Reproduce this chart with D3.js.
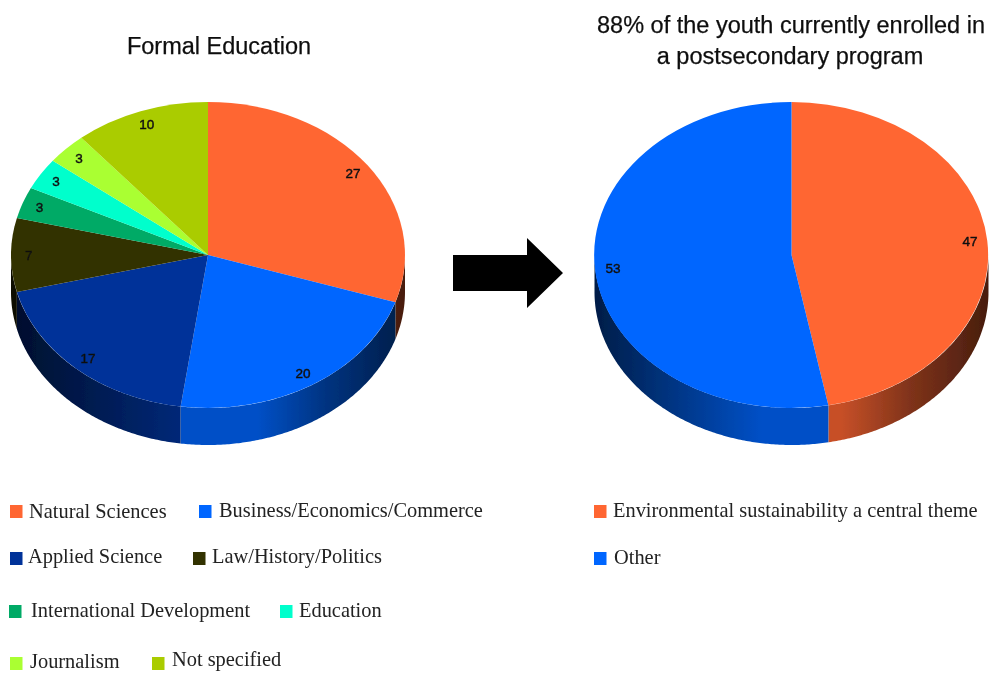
<!DOCTYPE html>
<html>
<head>
<meta charset="utf-8">
<script src="https://cdn.jsdelivr.net/npm/d3@7"></script>
<style>
  html, body { margin: 0; background: #fff; }
  .title { font-family: "Liberation Sans", Arial, sans-serif; font-size: 23.5px; fill: #111; stroke: #111; stroke-width: 0.25px; text-anchor: middle; }
  .value { font-family: "Liberation Sans", Arial, sans-serif; font-size: 13.5px; fill: #111; stroke: #111; stroke-width: 0.45px; text-anchor: middle; dominant-baseline: central; }
  .legend { font-family: "Liberation Serif", "Times New Roman", serif; font-size: 20.4px; fill: #222; }
</style>
</head>
<body>
<div id="chart"></div>
<script>
var svgWidth = 990;
var svgHeight = 675;

// left pie data
var educationCategories = ["Natural Sciences", "Business/Economics/Commerce", "Applied Science", "Law/History/Politics",
  "International Development", "Education", "Journalism", "Not specified"];
var educationValues = [27, 20, 17, 7, 3, 3, 3, 10];
var educationColors = ["#FF6633", "#0066FF", "#003399", "#333300", "#00AA66", "#00FFCC", "#AAFF33", "#AACC00"];

// right pie data
var themeCategories = ["Environmental sustainability a central theme", "Other"];
var themeValues = [47, 53];
var themeColors = ["#FF6633", "#0066FF"];

// wall lighting across the pie width: [x as share of radius, brightness]
var wallLight = [[-1, 0.28], [-0.15, 0.78], [0.25, 0.78], [0.6, 0.5], [1, 0.28]];

// legend layout, same order as the categories: [swatch x, swatch y, text x, baseline]
var educationLegend = [[10, 505, 29, 518], [199, 505, 219, 517], [10, 552, 28, 563], [193, 552, 212, 563],
  [9, 605, 31, 617], [280, 605, 299, 617], [10, 657, 30, 668], [152, 657, 172, 666]];
var themeLegend = [[594, 505, 613, 517], [594, 552, 614, 564]];

var pieRx = 197, pieRy = 153, pieDepth = 37;

var svg = d3.select("#chart").append("svg")
  .attr("width", svgWidth)
  .attr("height", svgHeight)
  .style("display", "block");

var defs = svg.append("defs");
var blur = defs.append("filter").attr("id", "soft");
blur.append("feGaussianBlur").attr("stdDeviation", 0.45);

var root = svg.append("g").attr("filter", "url(#soft)");

function drawPie(id, cx, cy, values, colors) {
  var pie = d3.pie().sort(null).value(d => d);
  var arcs = pie(values);
  var g = root.append("g").attr("transform", `translate(${cx}, ${cy})`);

  var xScale = d3.scaleLinear().domain([-1, 1]).range([-pieRx, pieRx]);
  var yScale = d3.scaleLinear().domain([-1, 1]).range([-pieRy, pieRy]);

  // the wall: only the part of each slice on the front half of the ellipse
  arcs.forEach(function(d, i) {
    var a0 = Math.max(d.startAngle, Math.PI / 2);
    var a1 = Math.min(d.endAngle, Math.PI * 3 / 2);
    if (a1 <= a0) return;
    var angles = d3.range(a0, a1, 0.01).concat([a1]);
    var rim = angles.map(a => [xScale(Math.sin(a)), yScale(-Math.cos(a))]);

    // same light for every slice, measured over the whole pie width
    var gradId = id + "-wall-" + i;
    var shade = d3.interpolateRgb("#000", colors[i]);
    defs.append("linearGradient")
      .attr("id", gradId)
      .attr("gradientUnits", "userSpaceOnUse")
      .attr("x1", -pieRx).attr("x2", pieRx)
      .attr("y1", 0).attr("y2", 0)
      .selectAll("stop")
      .data(wallLight)
      .enter()
      .append("stop")
      .attr("offset", s => (s[0] + 1) / 2)
      .attr("stop-color", s => shade(s[1]));

    var wall = d3.area()
      .x(p => p[0])
      .y0(p => p[1])
      .y1(p => p[1] + pieDepth);
    g.append("path")
      .attr("d", wall(rim))
      .attr("fill", `url(#${gradId})`);
  });

  // top face, unit arc squashed to the ellipse
  var arc = d3.arc().innerRadius(0).outerRadius(1);
  g.append("g")
    .attr("transform", `scale(${pieRx}, ${pieRy})`)
    .selectAll("path")
    .data(arcs)
    .enter()
    .append("path")
    .attr("d", arc)
    .attr("fill", (d, i) => colors[i]);

  // values sit near the outer edge
  var labelArc = d3.arc().innerRadius(0.91).outerRadius(0.91);
  g.selectAll("text")
    .data(arcs)
    .enter()
    .append("text")
    .attr("class", "value")
    .attr("x", d => labelArc.centroid(d)[0] * pieRx)
    .attr("y", d => labelArc.centroid(d)[1] * pieRy)
    .text(d => d.data);
}

function drawLegend(categories, colors, layout) {
  categories.forEach(function(name, i) {
    var p = layout[i];
    root.append("rect")
      .attr("x", p[0]).attr("y", p[1])
      .attr("width", 12.5).attr("height", 13)
      .attr("fill", colors[i]);
    root.append("text")
      .attr("class", "legend")
      .attr("x", p[2]).attr("y", p[3])
      .text(name);
  });
}

drawPie("edu", 208, 255, educationValues, educationColors);
drawPie("theme", 791.5, 255, themeValues, themeColors);

// block arrow between the pies
root.append("path")
  .attr("d", "M453,255 H527 V238 L563,273 L527,308 V291 H453 Z")
  .attr("fill", "#000");

root.append("text").attr("class", "title").attr("x", 219).attr("y", 54).text("Formal Education");
root.append("text").attr("class", "title").attr("x", 791).attr("y", 33).text("88% of the youth currently enrolled in");
root.append("text").attr("class", "title").attr("x", 790).attr("y", 64).text("a postsecondary program");

drawLegend(educationCategories, educationColors, educationLegend);
drawLegend(themeCategories, themeColors, themeLegend);
</script>
</body>
</html>
